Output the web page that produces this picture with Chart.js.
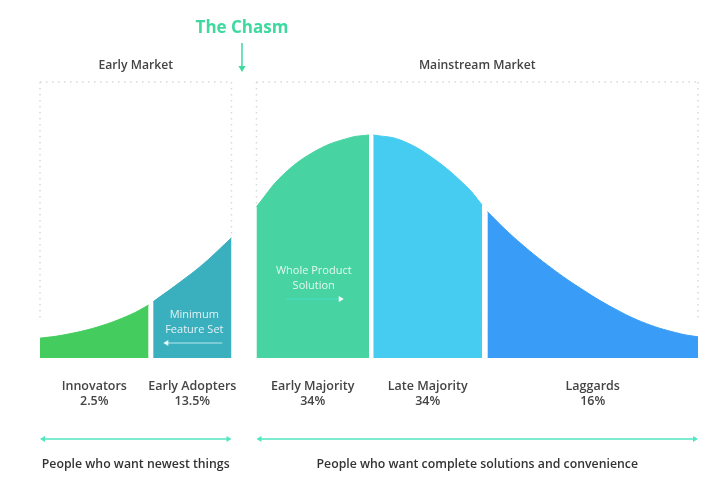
<!DOCTYPE html>
<html>
<head>
<meta charset="utf-8">
<script src="https://cdn.jsdelivr.net/npm/chart.js@4"></script>
<style>
  html, body { margin: 0; padding: 0; background: #fff; }
  .chart-size { position: relative; width: 724px; height: 489px; }
</style>
</head>
<body>
<div class="chart-size"><canvas id="chart"></canvas></div>
<script>
// adopter groups and their share
const groups = ["Innovators", "Early Adopters", "Early Majority", "Late Majority", "Laggards"];
const shares = ["2.5%", "13.5%", "34%", "34%", "16%"];
const colors = ["#44cd5e", "#3aafbe", "#48d3a3", "#45ccf0", "#399cf6"];

// curve: position (0-100) and height (peak = 100)
const innovatorsX = [0, 3.5, 8.7, 13.7, 16.5];
const innovatorsY = [8.9, 10.3, 13.9, 19.4, 23.8];
const earlyAdoptersX = [17.2, 21.3, 24.8, 29.1];
const earlyAdoptersY = [25.3, 34.1, 42.2, 54.0];
const earlyMajorityX = [32.9, 36.9, 42.1, 47.1, 50.0];
const earlyMajorityY = [68.0, 82.2, 93.4, 99.0, 100.2];
const lateMajorityX = [50.65, 54.7, 59.7, 64.9, 67.2];
const lateMajorityY = [100.2, 98.0, 89.8, 76.8, 68.7];
const laggardsX = [68.0, 71.9, 77.1, 82.1, 87.1, 92.2, 97.3, 100];
const laggardsY = [65.7, 54.5, 41.8, 31.4, 22.5, 15.4, 10.9, 9.5];

const markets = ["Early Market", "Mainstream Market"];
const marketNotes = ["People who want newest things", "People who want complete solutions and convenience"];
const chasmLabel = "The Chasm";
const leftNote = ["Minimum", "Feature Set"];
const rightNote = ["Whole Product", "Solution"];

const segX = [innovatorsX, earlyAdoptersX, earlyMajorityX, lateMajorityX, laggardsX];
const segY = [innovatorsY, earlyAdoptersY, earlyMajorityY, lateMajorityY, laggardsY];

const datasets = groups.map((g, i) => ({
  label: g,
  data: segX[i].map((x, j) => ({ x, y: segY[i][j] })),
  backgroundColor: colors[i],
  borderColor: colors[i],
  borderWidth: 1,
  pointRadius: 0,
  fill: "origin",
  tension: 0.4
}));

const FONT = '"Open Sans", "DejaVu Sans", sans-serif';

function arrowHead(ctx, x, y, dir, size) {
  ctx.beginPath();
  if (dir === "left") {
    ctx.moveTo(x, y); ctx.lineTo(x + size, y - size * 0.6); ctx.lineTo(x + size, y + size * 0.6);
  } else if (dir === "right") {
    ctx.moveTo(x, y); ctx.lineTo(x - size, y - size * 0.6); ctx.lineTo(x - size, y + size * 0.6);
  } else {
    ctx.moveTo(x, y); ctx.lineTo(x - size * 0.6, y - size); ctx.lineTo(x + size * 0.6, y - size);
  }
  ctx.closePath();
  ctx.fill();
}

const decor = {
  id: "decor",
  beforeDatasetsDraw(chart) {
    const { ctx, chartArea, scales } = chart;
    const xs = scales.x, ys = scales.y;
    const top = chartArea.top;
    const lx0 = xs.getPixelForValue(innovatorsX[0]);
    const lx1 = xs.getPixelForValue(earlyAdoptersX[earlyAdoptersX.length - 1]);
    const rx0 = xs.getPixelForValue(earlyMajorityX[0]);
    const rx1 = xs.getPixelForValue(laggardsX[laggardsX.length - 1]);
    ctx.save();
    ctx.strokeStyle = "#d9d9d9";
    ctx.lineWidth = 1.5;
    ctx.setLineDash([1.5, 4.5]);
    const line = (x0, y0, x1, y1) => { ctx.beginPath(); ctx.moveTo(x0, y0); ctx.lineTo(x1, y1); ctx.stroke(); };
    line(lx0, top, lx1, top);
    line(rx0, top, rx1, top);
    line(lx0, top, lx0, ys.getPixelForValue(innovatorsY[0]) - 17);
    line(lx1, top, lx1, ys.getPixelForValue(earlyAdoptersY[earlyAdoptersY.length - 1]) - 2);
    line(rx0, top, rx0, ys.getPixelForValue(earlyMajorityY[0]) - 2);
    line(rx1, top, rx1, ys.getPixelForValue(laggardsY[laggardsY.length - 1]) - 16);
    ctx.restore();
  },
  afterDatasetsDraw(chart) {
    const { ctx, chartArea, scales } = chart;
    const xs = scales.x;
    const top = chartArea.top, base = chartArea.bottom;
    const lx0 = xs.getPixelForValue(innovatorsX[0]);
    const lx1 = xs.getPixelForValue(earlyAdoptersX[earlyAdoptersX.length - 1]);
    const rx0 = xs.getPixelForValue(earlyMajorityX[0]);
    const rx1 = xs.getPixelForValue(laggardsX[laggardsX.length - 1]);
    ctx.save();
    ctx.textAlign = "center";
    ctx.textBaseline = "middle";

    // chasm title and arrow
    const cx = (lx1 + rx0) / 2 - 2;
    ctx.fillStyle = "#3fd9a0";
    ctx.font = "bold 17px " + FONT;
    ctx.fillText(chasmLabel, cx, top - 54);
    ctx.strokeStyle = "#3fd9a0";
    ctx.lineWidth = 1.5;
    ctx.beginPath(); ctx.moveTo(cx, top - 39); ctx.lineTo(cx, top - 14); ctx.stroke();
    arrowHead(ctx, cx, top - 10, "down", 6);

    // market headings
    ctx.fillStyle = "#444";
    ctx.font = "600 12.2px " + FONT;
    ctx.fillText(markets[0], (lx0 + lx1) / 2, top - 16);
    ctx.fillText(markets[1], (rx0 + rx1) / 2, top - 16);

    // group labels
    segX.forEach((arr, i) => {
      const mx = (xs.getPixelForValue(arr[0]) + xs.getPixelForValue(arr[arr.length - 1])) / 2;
      ctx.fillStyle = "#444";
      ctx.font = "600 12.5px " + FONT;
      ctx.fillText(groups[i], mx, base + 28);
      ctx.fillText(shares[i], mx, base + 43);
    });

    // bottom double arrows
    const ay = base + 81;
    ctx.strokeStyle = "#52e5c1";
    ctx.fillStyle = "#52e5c1";
    ctx.lineWidth = 1.5;
    [[lx0, lx1], [rx0, rx1]].forEach(([a, b]) => {
      ctx.beginPath(); ctx.moveTo(a + 2, ay); ctx.lineTo(b - 2, ay); ctx.stroke();
      arrowHead(ctx, a, ay, "left", 5);
      arrowHead(ctx, b, ay, "right", 5);
    });

    ctx.fillStyle = "#333";
    ctx.font = "600 12.3px " + FONT;
    ctx.fillText(marketNotes[0], (lx0 + lx1) / 2, base + 106);
    ctx.fillText(marketNotes[1], (rx0 + rx1) / 2, base + 106);

    // notes inside the curve
    ctx.font = "11px " + FONT;
    ctx.fillStyle = "rgba(255,255,255,0.85)";
    const ax0 = xs.getPixelForValue(earlyAdoptersX[0]);
    const nx = (ax0 + lx1) / 2 + 2;
    ctx.fillText(leftNote[0], nx, base - 43);
    ctx.fillText(leftNote[1], nx, base - 28);
    ctx.strokeStyle = "rgba(200,240,245,0.9)";
    ctx.fillStyle = "rgba(230,250,252,1)";
    ctx.lineWidth = 1;
    ctx.beginPath(); ctx.moveTo(nx - 28, base - 15); ctx.lineTo(nx + 28, base - 15); ctx.stroke();
    arrowHead(ctx, nx - 31, base - 15, "left", 5);

    const mx = (rx0 + xs.getPixelForValue(earlyMajorityX[earlyMajorityX.length - 1])) / 2 + 1;
    ctx.fillStyle = "rgba(255,255,255,0.85)";
    ctx.fillText(rightNote[0], mx, base - 87);
    ctx.fillText(rightNote[1], mx, base - 72);
    ctx.strokeStyle = "#3ee0c6";
    ctx.fillStyle = "#ffffff";
    ctx.beginPath(); ctx.moveTo(mx - 28, base - 59); ctx.lineTo(mx + 26, base - 59); ctx.stroke();
    arrowHead(ctx, mx + 30, base - 59, "right", 5);
    ctx.restore();
  }
};

new Chart(document.getElementById("chart"), {
  type: "line",
  data: { datasets },
  options: {
    responsive: true,
    maintainAspectRatio: false,
    animation: false,
    layout: { padding: { left: 40, right: 26, top: 82, bottom: 131 } },
    plugins: { legend: { display: false }, tooltip: { enabled: false } },
    scales: {
      x: { type: "linear", min: 0, max: 100, display: false },
      y: { min: 0, max: 124, display: false }
    }
  },
  plugins: [decor]
});
</script>
</body>
</html>
